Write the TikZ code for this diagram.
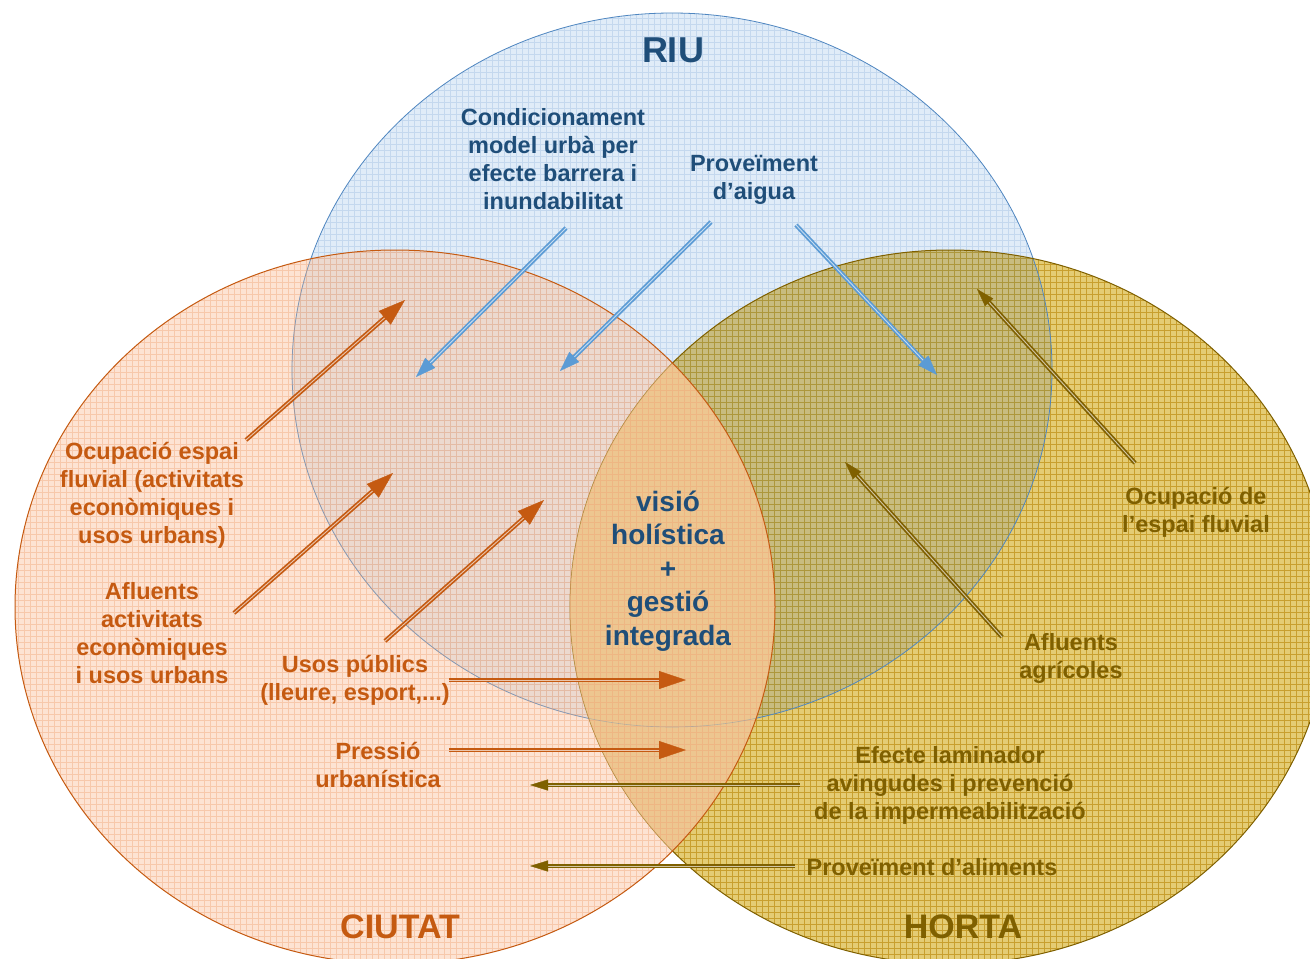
\documentclass[tikz,border=0pt]{standalone}
\usepackage{fontspec}
\setmainfont{Liberation Sans}
\usetikzlibrary{arrows.meta,calc}
\definecolor{bluefill}{HTML}{E0ECF8}
\definecolor{bluegrid}{HTML}{C4D8EE}
\definecolor{blueline}{HTML}{4F86C0}
\definecolor{hortafill}{HTML}{E4CC74}
\definecolor{hortagrid}{HTML}{C89F2E}
\definecolor{hbfill}{HTML}{C8BC80}
\definecolor{hbgrid}{HTML}{AD973C}
\definecolor{lensfill}{HTML}{EDC690}
\definecolor{orfill}{HTML}{FBC39E}
\definecolor{orgrid}{HTML}{F0A070}
\definecolor{orline}{HTML}{C55A11}
\definecolor{hortaline}{HTML}{7F6000}
\definecolor{bluetext}{HTML}{1F4E79}
\definecolor{bluearrow}{HTML}{5B9BD5}
\newcommand\vennarrow[6]{%
  \draw[draw=#1, line width=1.7pt, double=#1!35!white, double distance=0.9pt, shorten >=#2pt] (#5) -- (#6);
  \draw[draw=#1, line width=0.4pt, -{Triangle[length=#3pt, width=#4pt]}] ($(#6)!#2pt!(#5)$) -- (#6);}
\begin{document}
\begin{tikzpicture}[x=1pt,y=-1pt,
  lbl/.style={font=\fontsize{23.5}{28}\selectfont\bfseries, align=center, inner sep=0pt},
  big/.style={font=\fontsize{34}{40}\selectfont\bfseries, inner sep=0pt}]
\fill[white] (0,0) rectangle (1310,959);
\useasboundingbox (0,0) rectangle (1310,959);
% RIU
\fill[bluefill] (672,370) ellipse [x radius=380, y radius=357];
\begin{scope}
  \clip (672,370) ellipse [x radius=380, y radius=357];
  \draw[bluegrid, line width=0.5pt, step=6pt] (282,738) grid (1062,0);
\end{scope}
% HORTA
\fill[hortafill] (950,607) ellipse [x radius=380, y radius=357];
\begin{scope}
  \clip (950,607) ellipse [x radius=380, y radius=357];
  \draw[hortagrid, line width=0.6pt, step=6pt] (564,966) grid (1332,240);
\end{scope}
\begin{scope}
  \clip (672,370) ellipse [x radius=380, y radius=357];
  \fill[hbfill] (950,607) ellipse [x radius=380, y radius=357];
  \clip (950,607) ellipse [x radius=380, y radius=357];
  \draw[hbgrid, line width=0.6pt, step=6pt] (564,738) grid (1062,240);
\end{scope}
\draw[blueline, line width=0.8pt] (672,370) ellipse [x radius=380, y radius=357];
\draw[hortaline, line width=1pt] (950,607) ellipse [x radius=380, y radius=357];
% CIUTAT
\fill[orfill, fill opacity=0.45] (395,607) ellipse [x radius=380, y radius=357];
\begin{scope}
  \clip (395,607) ellipse [x radius=380, y radius=357];
  \fill[lensfill] (950,607) ellipse [x radius=380, y radius=357];
  \draw[orgrid, line width=0.5pt, opacity=0.4, step=6pt] (12,966) grid (780,246);
  \draw[blueline, line width=0.6pt, opacity=0.35] (672,370) ellipse [x radius=380, y radius=357];
  \draw[hortaline, line width=0.6pt, opacity=0.3] (950,607) ellipse [x radius=380, y radius=357];
\end{scope}
\draw[orline, line width=1pt] (395,607) ellipse [x radius=380, y radius=357];

% labels
\node[big, bluetext, font=\fontsize{36}{40}\selectfont\bfseries] (riu) at (673,50) {RIU};
\node[big, orline] (ciutat) at (400,927) {CIUTAT};
\node[big, hortaline] (horta) at (963,927) {HORTA};
\node[lbl, bluetext] (condic) at (553,159) {Condicionament\\model urbà per\\efecte barrera i\\inundabilitat};
\node[lbl, bluetext] (provaigua) at (754,180) {Proveïment\\d’aigua};
\node[lbl, bluetext, font=\fontsize{28}{33.5}\selectfont\bfseries] (visio) at (668,571) {visió\\holística\\+\\gestió\\integrada};
\node[lbl, orline] (ocupesp) at (152,495) {Ocupació espai\\fluvial (activitats\\econòmiques i\\usos urbans)};
\node[lbl, orline] (aflact) at (152,633) {Afluents\\activitats\\econòmiques\\i usos urbans};
\node[lbl, orline] (usospub) at (355,680) {Usos públics\\(lleure, esport,...)};
\node[lbl, orline] (pressio) at (378,765) {Pressió\\urbanística};
\node[lbl, hortaline] (efecte) at (950,785) {Efecte laminador\\avingudes i prevenció\\de la impermeabilització};
\node[lbl, hortaline] (provalim) at (932,867) {Proveïment d’aliments};
\node[lbl, hortaline] (ocupde) at (1196,512) {Ocupació de\\l’espai fluvial};
\node[lbl, hortaline] (aflagr) at (1071,658) {Afluents\\agrícoles};

% arrow end points
\coordinate (t1) at (566,228); \coordinate (h1) at (416,377);
\coordinate (t2) at (711,222); \coordinate (h2) at (560,371);
\coordinate (t3) at (796,225); \coordinate (h3) at (937,375);
\coordinate (t4) at (246,440); \coordinate (h4) at (405,300);
\coordinate (t5) at (234,613); \coordinate (h5) at (393,473);
\coordinate (t6) at (385,641); \coordinate (h6) at (544,500);
\coordinate (t7) at (449,680); \coordinate (h7) at (686,680);
\coordinate (t8) at (449,750); \coordinate (h8) at (686,750);
\coordinate (t9) at (800,785); \coordinate (h9) at (530,785);
\coordinate (t10) at (795,866); \coordinate (h10) at (530,866);
\coordinate (t11) at (1135,463); \coordinate (h11) at (977,289);
\coordinate (t12) at (1002,637); \coordinate (h12) at (845,462);

\vennarrow{bluearrow}{16}{20}{14}{t1}{h1}
\vennarrow{bluearrow}{16}{20}{14}{t2}{h2}
\vennarrow{bluearrow}{16}{20}{14}{t3}{h3}
\vennarrow{orline}{22}{27}{18}{t4}{h4}
\vennarrow{orline}{22}{27}{18}{t5}{h5}
\vennarrow{orline}{22}{27}{18}{t6}{h6}
\vennarrow{orline}{22}{27}{18}{t7}{h7}
\vennarrow{orline}{22}{27}{18}{t8}{h8}
\vennarrow{hortaline}{14}{18}{11}{t9}{h9}
\vennarrow{hortaline}{14}{18}{11}{t10}{h10}
\vennarrow{hortaline}{14}{18}{11}{t11}{h11}
\vennarrow{hortaline}{14}{18}{11}{t12}{h12}
\end{tikzpicture}
\end{document}
